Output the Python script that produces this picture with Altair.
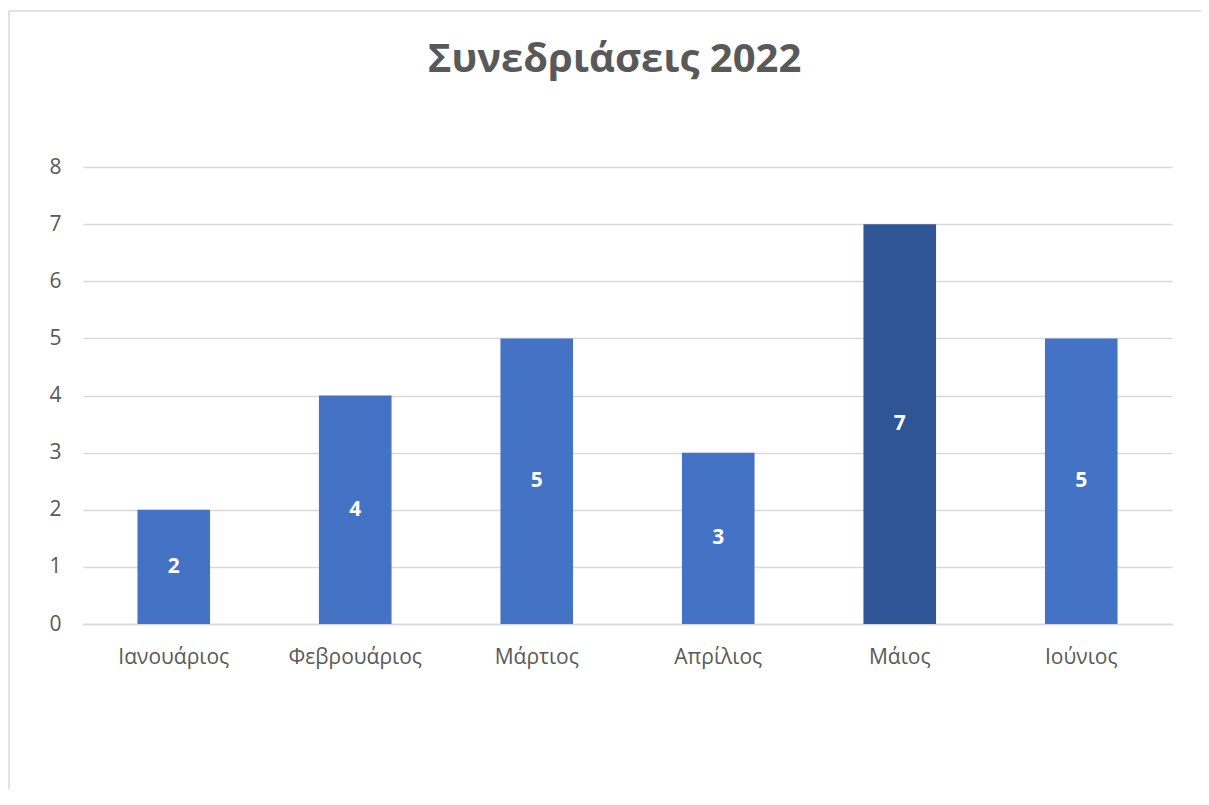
import altair as alt
import pandas as pd

months = ["Ιανουάριος", "Φεβρουάριος", "Μάρτιος", "Απρίλιος", "Μάιος", "Ιούνιος"]
meetings = [2, 4, 5, 3, 7, 5]
highlight_month = "Μάιος"
y_ticks = [0, 1, 2, 3, 4, 5, 6, 7, 8]
title_text = "Συνεδριάσεις 2022"

df = pd.DataFrame({"month": months, "value": meetings})

W, H = 1089, 457
FONT = "Open Sans"
GRAY = "#595959"
GRID = "#D9D9D9"

x_enc = alt.X(
    "month:N",
    sort=months,
    scale=alt.Scale(paddingInner=0.6, paddingOuter=0.3),
    axis=alt.Axis(
        title=None, labelAngle=0, ticks=False, domain=True, domainColor=GRID,
        domainWidth=1.3, labelFontSize=21, labelColor=GRAY, labelPadding=22,
        labelFont=FONT,
    ),
)

bars = alt.Chart(df).mark_bar().encode(
    x=x_enc,
    y=alt.Y(
        "value:Q",
        scale=alt.Scale(domain=[0, 8], nice=False),
        axis=alt.Axis(
            title=None, values=y_ticks, format="d", domain=False, ticks=False,
            grid=True, gridColor=GRID, gridWidth=1.3, labelFontSize=21,
            labelColor=GRAY, labelPadding=22, labelFont=FONT,
        ),
    ),
    color=alt.condition(
        alt.datum.month == highlight_month, alt.value("#2F5597"), alt.value("#4472C4")
    ),
)

labels = alt.Chart(df).transform_calculate(mid="datum.value / 2").mark_text(
    color="white", fontWeight="bold", fontSize=21, font=FONT, baseline="middle"
).encode(
    x=alt.X("month:N", sort=months),
    y=alt.Y("mid:Q"),
    text=alt.Text("value:Q"),
)

dummy = pd.DataFrame({"f": [0]})
frame_top = alt.Chart(dummy).mark_rule(color=GRID, strokeWidth=1.5).encode(
    x=alt.value(-74), x2=alt.value(W + 60), y=alt.value(-156),
)
frame_left = alt.Chart(dummy).mark_rule(color=GRID, strokeWidth=1.5).encode(
    x=alt.value(-74), y=alt.value(-156), y2=alt.value(H + 300),
)

chart = alt.layer(frame_top, frame_left, bars, labels).properties(
    width=W,
    height=H,
    title=alt.TitleParams(
        title_text, fontSize=40, font=FONT, fontWeight="bold", color=GRAY,
        anchor="middle", offset=-102, dx=-13, baseline="alphabetic",
    ),
    autosize=alt.AutoSizeParams(type="none"),
    padding={"left": 75, "top": 159, "right": 29, "bottom": 165},
).configure_view(stroke=None)

chart.save("out.html", embed_options={"renderer": "svg", "actions": False})
